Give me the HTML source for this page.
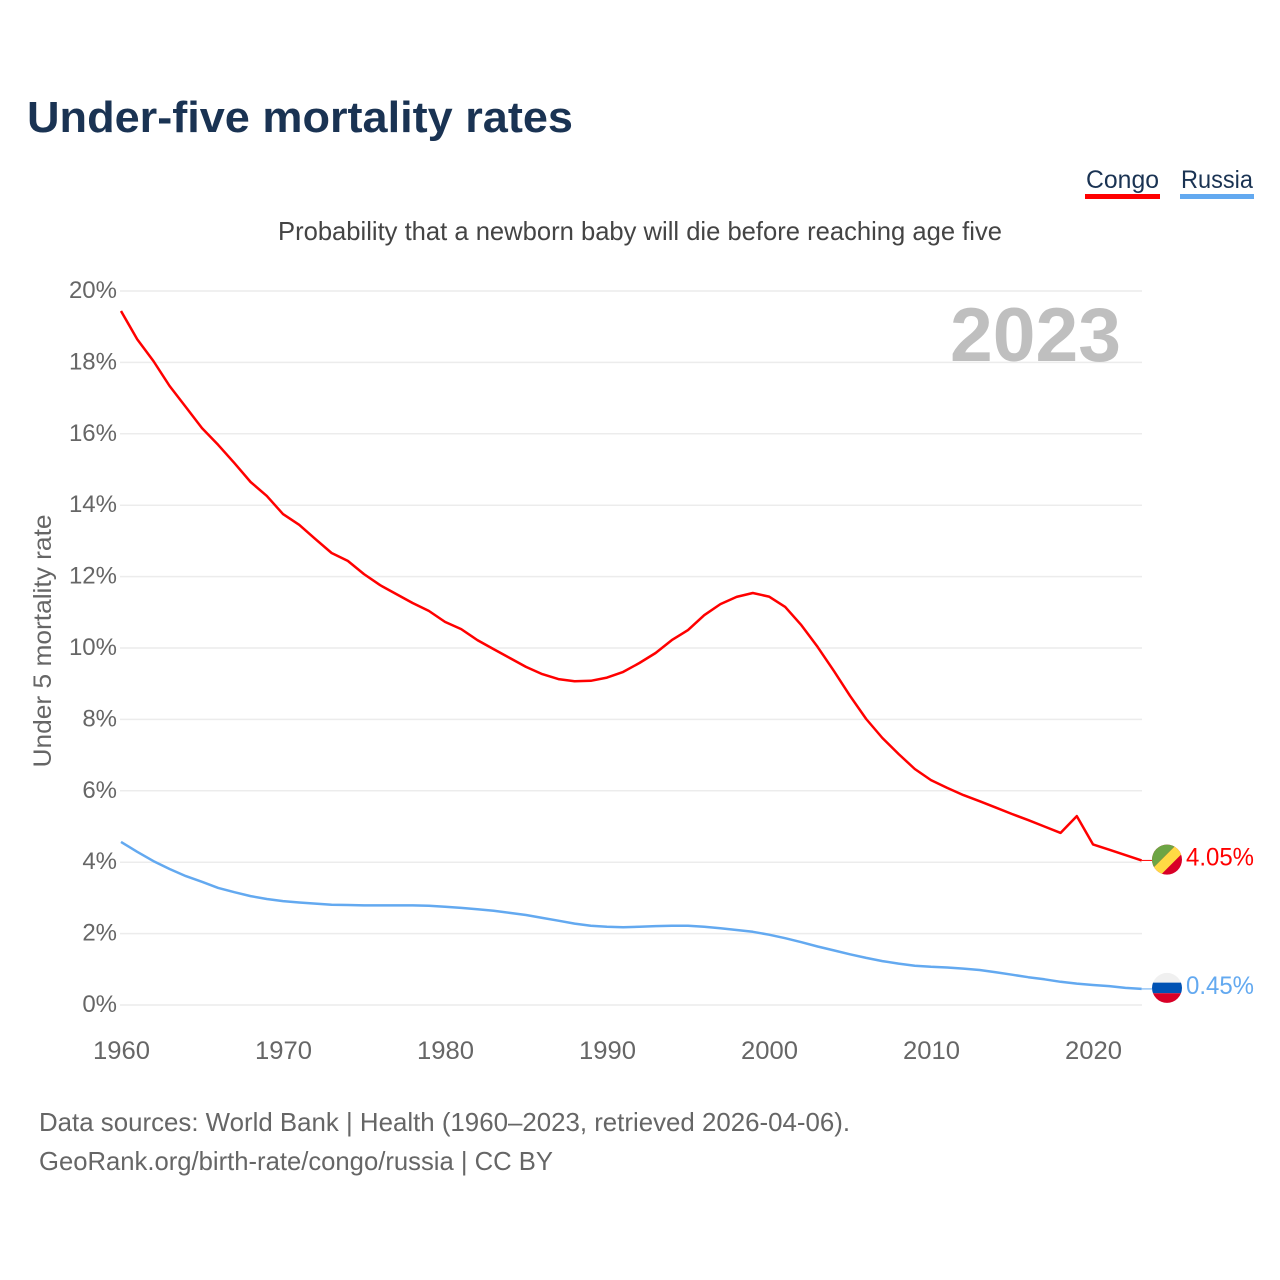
<!DOCTYPE html>
<html lang="en">
<head>
<meta charset="utf-8">
<title>Under-five mortality rates</title>
<style>
  html, body { margin: 0; padding: 0; background: #fff; }
  svg { display: block; font-family: "Liberation Sans", sans-serif; }
</style>
</head>
<body>
<svg id="chart" width="1280" height="1280" viewBox="0 0 1280 1280" xmlns="http://www.w3.org/2000/svg">
  <defs>
    <clipPath id="flag-clip"><circle cx="0" cy="0" r="15"></circle></clipPath>
  </defs>
  <rect width="1280" height="1280" fill="#fff"></rect>
  <text x="27" y="132" font-size="44" font-weight="700" fill="#1a3353" textLength="546" lengthAdjust="spacingAndGlyphs">Under-five mortality rates</text>

  <g>
    <g>
      <text x="1086" y="188" font-size="25" fill="#1a3353" textLength="73" lengthAdjust="spacingAndGlyphs">Congo</text>
      <rect x="1085" y="194" width="75" height="5" fill="#ff0000"></rect>
    </g>
    <g>
      <text x="1181" y="188" font-size="25" fill="#1a3353" textLength="72" lengthAdjust="spacingAndGlyphs">Russia</text>
      <rect x="1180" y="194" width="74" height="5" fill="#63a9f0"></rect>
    </g>
  </g>

  <text x="278" y="240" font-size="26" fill="#444" textLength="724" lengthAdjust="spacingAndGlyphs">Probability that a newborn baby will die before reaching age five</text>

  <g id="grid"></g>
  <g id="y-ticks"></g>
  <g id="x-ticks"></g>

  <text transform="translate(51,641) rotate(-90)" text-anchor="middle" font-size="25" fill="#666" textLength="253" lengthAdjust="spacingAndGlyphs">Under 5 mortality rate</text>

  <text x="950" y="361" font-size="76" font-weight="700" fill="#bfbfbf" textLength="171" lengthAdjust="spacingAndGlyphs">2023</text>

  <g id="series"></g>
  <g id="end-markers"></g>

  <text x="39" y="1131" font-size="26" fill="#666" textLength="811" lengthAdjust="spacingAndGlyphs">Data sources: World Bank | Health (1960–2023, retrieved 2026-04-06).</text>
  <text x="39" y="1170" font-size="26" fill="#666" textLength="514" lengthAdjust="spacingAndGlyphs">GeoRank.org/birth-rate/congo/russia | CC BY</text>
</svg>
<script>
const firstYear = 1960;
const xTickYears = [1960, 1970, 1980, 1990, 2000, 2010, 2020];
const yTickValues = [0, 2, 4, 6, 8, 10, 12, 14, 16, 18, 20];
const congoValues = [
  19.44, 18.65, 18.04, 17.34, 16.75, 16.16, 15.69, 15.18, 14.65, 14.26,
  13.75, 13.45, 13.05, 12.66, 12.44, 12.07, 11.76, 11.51, 11.26, 11.04,
  10.73, 10.53, 10.22, 9.97, 9.72, 9.47, 9.27, 9.13, 9.07, 9.08,
  9.17, 9.33, 9.58, 9.86, 10.22, 10.50, 10.92, 11.23, 11.43, 11.54,
  11.44, 11.15, 10.64, 10.03, 9.36, 8.66, 8.01, 7.48, 7.03, 6.61,
  6.30, 6.08, 5.88, 5.71, 5.53, 5.35, 5.18, 5.00, 4.82, 5.29,
  4.50, 4.35, 4.20, 4.05
];
const russiaValues = [
  4.57, 4.29, 4.03, 3.81, 3.61, 3.45, 3.28, 3.16, 3.05, 2.97,
  2.91, 2.87, 2.84, 2.81, 2.80, 2.79, 2.79, 2.79, 2.79, 2.78,
  2.75, 2.72, 2.68, 2.64, 2.58, 2.52, 2.44, 2.36, 2.28, 2.22,
  2.19, 2.18, 2.19, 2.21, 2.22, 2.22, 2.19, 2.15, 2.10, 2.05,
  1.97, 1.87, 1.76, 1.64, 1.53, 1.42, 1.32, 1.23, 1.16, 1.10,
  1.07, 1.05, 1.02, 0.98, 0.92, 0.85, 0.78, 0.72, 0.65, 0.60,
  0.56, 0.53, 0.48, 0.45
];

const NS = 'http://www.w3.org/2000/svg';
function xScale(year) { return 121 + (year - firstYear) * 16.2; }
function yScale(v) { return 1005 - v * 35.7; }
function make(tag, attrs, parent) {
  const el = document.createElementNS(NS, tag);
  for (const k in attrs) el.setAttribute(k, attrs[k]);
  parent.appendChild(el);
  return el;
}

const grid = document.getElementById('grid');
const yTicks = document.getElementById('y-ticks');
const xTicks = document.getElementById('x-ticks');
const series = document.getElementById('series');
const markers = document.getElementById('end-markers');

yTickValues.forEach(function (v) {
  const line = make('line', { x1: 120, x2: 1142, y1: yScale(v), y2: yScale(v), stroke: '#ececec', 'stroke-width': 1.5 }, grid);
  
  
  const label = make('text', { x: 117, y: yScale(v) + 7, 'text-anchor': 'end', 'font-size': 24, fill: '#666' }, yTicks);
  label.textContent = v + '%';
  
  
});

xTickYears.forEach(function (year) {
  const label = make('text', { x: xScale(year) + 0.5, y: 1059, 'text-anchor': 'middle', 'font-size': 25, fill: '#666', textLength: 57, lengthAdjust: 'spacingAndGlyphs' }, xTicks);
  label.textContent = String(year);
  
  
});

function linePoints(values) {
  return values.map(function (v, i) {
    return xScale(firstYear + i).toFixed(1) + ',' + yScale(v).toFixed(1);
  }).join(' ');
}

const lastYear = firstYear + congoValues.length - 1;

const russiaLine = make('polyline', { points: linePoints(russiaValues), fill: 'none', stroke: '#63a9f0', 'stroke-width': 2.5, 'stroke-linejoin': 'round' }, series);



const congoLine = make('polyline', { points: linePoints(congoValues), fill: 'none', stroke: '#ff0000', 'stroke-width': 2.5, 'stroke-linejoin': 'round' }, series);



const congoLast = congoValues[congoValues.length - 1];
const russiaLast = russiaValues[russiaValues.length - 1];

const congoConnector = make('line', { x1: xScale(lastYear), x2: 1152, y1: yScale(congoLast), y2: yScale(congoLast), stroke: '#ff0000', 'stroke-width': 1 }, markers);



const russiaConnector = make('line', { x1: xScale(lastYear), x2: 1152, y1: yScale(russiaLast), y2: yScale(russiaLast), stroke: '#63a9f0', 'stroke-width': 1 }, markers);



const congoFlag = make('g', { transform: 'translate(1167,' + (yScale(congoLast) - 0.8) + ')', 'clip-path': 'url(#flag-clip)' }, markers);


make('rect', { x: -16, y: -16, width: 32, height: 32, fill: '#d80027' }, congoFlag);
make('polygon', { points: '-16,-16 10.5,-16 -16,10.5', fill: '#6da544' }, congoFlag);
make('polygon', { points: '10.5,-16 16,-16 16,-7 -7,16 -16,16 -16,10.5', fill: '#ffda44' }, congoFlag);

const russiaFlag = make('g', { transform: 'translate(1167,' + (yScale(russiaLast) - 1) + ')', 'clip-path': 'url(#flag-clip)' }, markers);


make('rect', { x: -16, y: -16, width: 32, height: 11, fill: '#f0f0f0' }, russiaFlag);
make('rect', { x: -16, y: -5.3, width: 32, height: 10.6, fill: '#0052b4' }, russiaFlag);
make('rect', { x: -16, y: 5.3, width: 32, height: 11, fill: '#d80027' }, russiaFlag);

const congoValueLabel = make('text', { x: 1186, y: yScale(congoLast) + 5, 'font-size': 25, fill: '#ff0000', textLength: 68, lengthAdjust: 'spacingAndGlyphs' }, markers);
congoValueLabel.textContent = congoLast.toFixed(2) + '%';



const russiaValueLabel = make('text', { x: 1186, y: yScale(russiaLast) + 5, 'font-size': 25, fill: '#63a9f0', textLength: 68, lengthAdjust: 'spacingAndGlyphs' }, markers);
russiaValueLabel.textContent = russiaLast.toFixed(2) + '%';


</script>
</body>
</html>
